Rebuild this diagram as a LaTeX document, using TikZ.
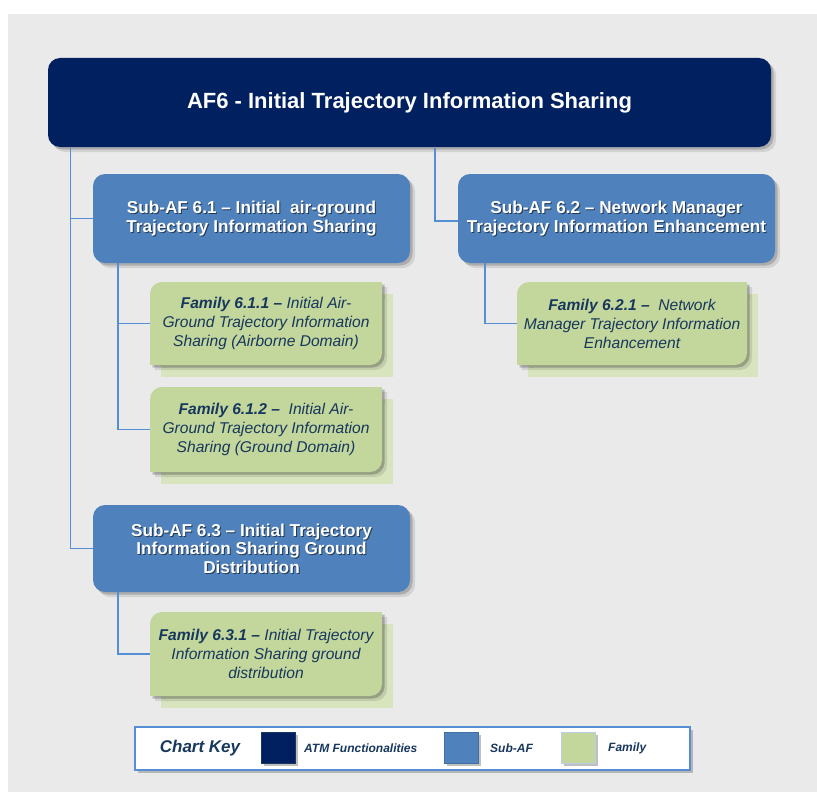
\documentclass[tikz,border=0pt]{standalone}
\usepackage{fontspec}
\setmainfont{Liberation Sans}
\usetikzlibrary{calc,shadows}
\definecolor{bggray}{HTML}{EAEAEA}
\definecolor{navy}{HTML}{002060}
\definecolor{subblue}{HTML}{4F81BD}
\definecolor{famgreen}{HTML}{C3D69B}
\definecolor{famback}{HTML}{D7E4BD}
\definecolor{famtext}{HTML}{17375E}
\definecolor{connblue}{HTML}{558ED5}
\definecolor{keyfam}{HTML}{B9CDE5}
\newcommand\rbox[5]{%
  \fill[black,opacity=0.10,rounded corners=12pt] (#1+5,#2+5) rectangle (#3+5,#4+5);
  \fill[black,opacity=0.18,rounded corners=12pt] (#1+2.5,#2+2.5) rectangle (#3+2.5,#4+2.5);
  \fill[#5,rounded corners=12pt] (#1,#2) rectangle (#3,#4);}
\newcommand\diagshape[5]{%
  \fill[#5,rounded corners=12pt] (#1,#2) rectangle (#3,#4);
  \fill[#5] (#3-14,#2) rectangle (#3,#2+14);
  \fill[#5] (#1,#4-14) rectangle (#1+14,#4);}
\newcommand\famshape[4]{%
  \fill[famback] (#1+11,#2+12) rectangle (#3+11,#4+12);
  \begin{scope}[transparency group,opacity=0.10]\diagshape{#1+5}{#2+5}{#3+5}{#4+5}{black}\end{scope}
  \begin{scope}[transparency group,opacity=0.22]\diagshape{#1+2.5}{#2+2.5}{#3+2.5}{#4+2.5}{black}\end{scope}
  \diagshape{#1}{#2}{#3}{#4}{famgreen}}
\begin{document}
\begin{tikzpicture}[x=1pt,y=-1pt,
  maintxt/.style={text=white,font=\bfseries\fontsize{22}{26}\selectfont,
    minimum width=723pt,minimum height=89pt,inner sep=0pt},
  subtxt/.style={text=white,font=\bfseries\fontsize{17.2}{18.5}\selectfont,align=center,
    minimum width=317pt,minimum height=89pt,inner sep=0pt},
  subshadow/.style={subtxt,text=black,text opacity=0.55},
  famtxt/.style={text=famtext,font=\itshape\fontsize{15.6}{19}\selectfont,align=center,
    minimum width=232pt,minimum height=83pt,inner sep=0pt},
  conn/.style={draw=connblue,line width=1.6pt},
  keytxt/.style={text=famtext,font=\bfseries\itshape\fontsize{12}{14}\selectfont,anchor=west,inner sep=0pt},
  keysq/.style={minimum width=34pt,minimum height=31pt,inner sep=0pt,line width=1pt,
    general shadow={fill=black,opacity=0.25,shadow xshift=2.5pt,shadow yshift=-2.5pt}}]
\useasboundingbox (0,0) rectangle (817,792);
\fill[white] (0,0) rectangle (817,792);
\fill[bggray] (8,14) rectangle (817,792);

% trunk x positions
\coordinate (trunkL) at (70.5,0);
\coordinate (trunkC) at (435,0);
\coordinate (trunkA) at (118,0);
\coordinate (trunkB) at (485,0);

% boxes
\rbox{48}{58}{771}{147}{navy}
\rbox{93}{174}{410}{263}{subblue}
\rbox{458}{174}{775}{263}{subblue}
\rbox{93}{505}{410}{592}{subblue}
\famshape{150}{282}{382}{365}
\famshape{150}{387}{382}{472}
\famshape{517}{282}{747}{365}
\famshape{150}{612}{382}{696}

% text nodes
\node[maintxt] (main) at (409.5,103) {AF6 - Initial Trajectory Information Sharing};

\node[subshadow] (s61sh) at (252.5,219.5) {Sub-AF 6.1 – Initial\ \ air-ground\\Trajectory Information Sharing};
\node[subtxt] (s61) at (251.5,218.5) {Sub-AF 6.1 – Initial\ \ air-ground\\Trajectory Information Sharing};
\node[subshadow] (s62sh) at (617.5,219.5) {Sub-AF 6.2 – Network Manager\\Trajectory Information Enhancement};
\node[subtxt] (s62) at (616.5,218.5) {Sub-AF 6.2 – Network Manager\\Trajectory Information Enhancement};
\node[subshadow,minimum height=87pt] (s63sh) at (252.5,549.5) {Sub-AF 6.3 – Initial Trajectory\\Information Sharing Ground\\Distribution};
\node[subtxt,minimum height=87pt] (s63) at (251.5,548.5) {Sub-AF 6.3 – Initial Trajectory\\Information Sharing Ground\\Distribution};

\node[famtxt] (f611) at (266,323.5) {{\bfseries Family 6.1.1 –} Initial Air-\\Ground Trajectory Information\\Sharing (Airborne Domain)};
\node[famtxt,minimum height=85pt] (f612) at (266,429.5) {{\bfseries Family 6.1.2 –}\ \ Initial Air-\\Ground Trajectory Information\\Sharing (Ground Domain)};
\node[famtxt,minimum width=230pt] (f621) at (632,323.5) {{\bfseries Family 6.2.1 –}\ \ Network\\Manager Trajectory Information\\Enhancement};
\node[famtxt,minimum height=84pt] (f631) at (266,654) {{\bfseries Family 6.3.1 –} Initial Trajectory\\Information Sharing ground\\distribution};

% connectors
\draw[conn] (main.south -| trunkL) |- (s61.west);
\draw[conn] (main.south -| trunkL) |- (s63.west);
\draw[conn] (main.south -| trunkC) |- ([yshift=-2.5pt]s62.west);
\draw[conn] (s61.south -| trunkA) |- (f611.west);
\draw[conn] (s61.south -| trunkA) |- (f612.west);
\draw[conn] (s62.south -| trunkB) |- (f621.west);
\draw[conn] (s63.south -| trunkA) |- (f631.west);

% chart key
\node[draw=connblue,line width=1.8pt,fill=white,minimum width=555pt,minimum height=43pt,inner sep=0pt,
  general shadow={fill=black,opacity=0.22,shadow xshift=3pt,shadow yshift=-3pt}] (key) at (412.5,748.5) {};
\node[text=famtext,font=\bfseries\itshape\fontsize{17}{20}\selectfont,inner sep=0pt] (keytitle) at (200,748) {Chart Key};
\node[keysq,fill=navy,draw=famtext] (sqatm) at (278,747.5) {};
\node[keytxt] (latm) at (304,748.5) {ATM Functionalities};
\node[keysq,fill=subblue,draw=subblue!85!black] (sqsub) at (461.5,747.5) {};
\node[keytxt] (lsub) at (490,748.5) {Sub-AF};
\node[keysq,fill=famgreen,draw=keyfam] (sqfam) at (578,747.5) {};
\node[keytxt] (lfam) at (608,748.5) {Family};
\end{tikzpicture}
\end{document}
